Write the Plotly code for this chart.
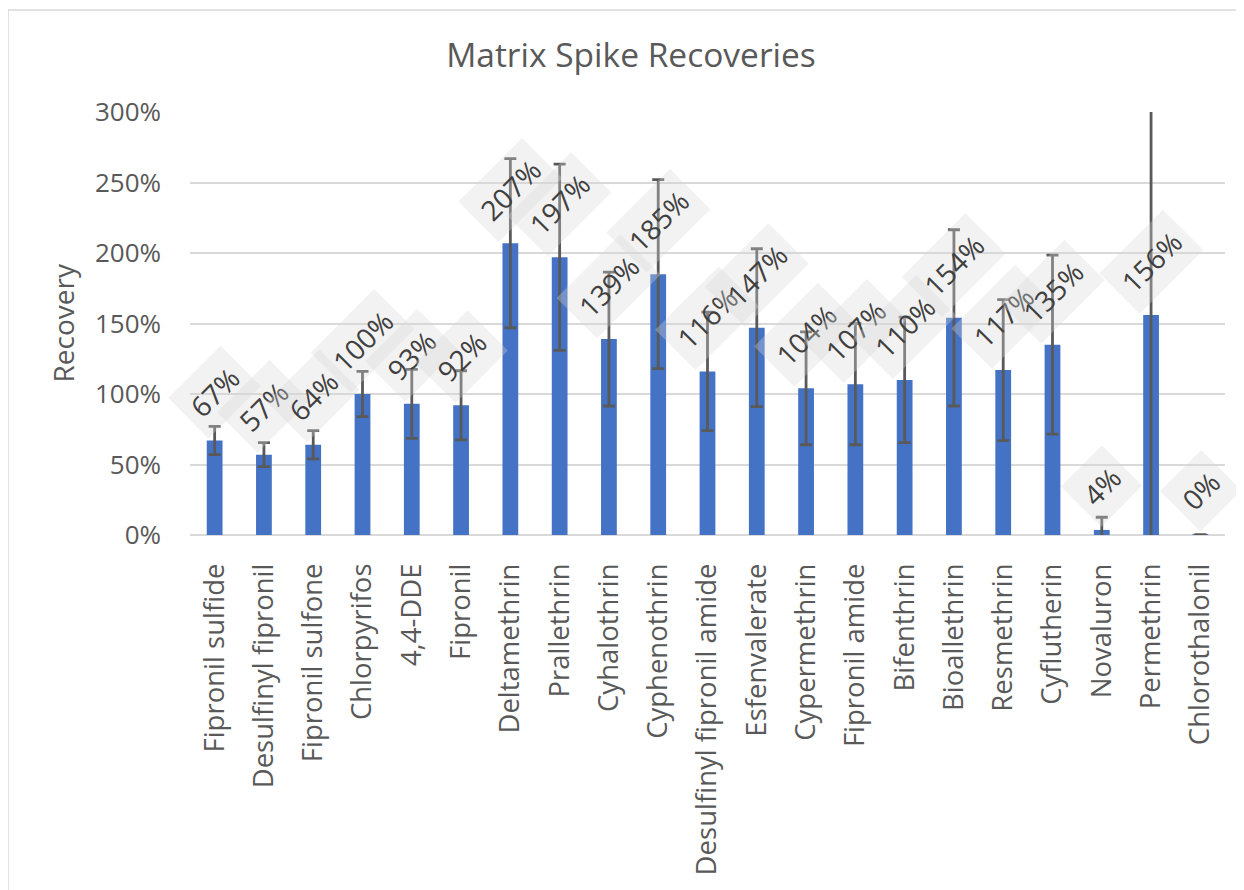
import plotly.graph_objects as go

categories = ["Fipronil sulfide", "Desulfinyl fipronil", "Fipronil sulfone", "Chlorpyrifos",
              "4,4-DDE", "Fipronil", "Deltamethrin", "Prallethrin", "Cyhalothrin", "Cyphenothrin",
              "Desulfinyl fipronil amide", "Esfenvalerate", "Cypermethrin", "Fipronil amide",
              "Bifenthrin", "Bioallethrin", "Resmethrin", "Cyflutherin", "Novaluron",
              "Permethrin", "Chlorothalonil"]
recovery_pct = [67, 57, 64, 100, 93, 92, 207, 197, 139, 185, 116, 147, 104, 107, 110, 154,
                117, 135, 3.6, 156, 0.3]
error_pct = [10, 8.5, 10, 16, 24.5, 24.5, 60, 66, 47.5, 67, 42, 56, 40, 43, 44.5, 62.5,
             50, 63.5, 9, 200, 0]

values = [v / 100 for v in recovery_pct]
errors = [e / 100 for e in error_pct]
labels = [f"{round(v):.0f}%" for v in recovery_pct]

FONT = "'Open Sans', 'Noto Sans', sans-serif"
GREY = "#595959"

# the page body adds an 8px offset; size the figure to fit inside the window
OFF = 8
W, H = 1244 - OFF, 890 - OFF
PL, PT, PR, PB = 190 - OFF, 112 - OFF, 1225 - OFF, 535 - OFF
L, T, R, B = PL, PT, W - PR, H - PB
PW, PH = PR - PL, PB - PT

fig = go.Figure()
fig.add_trace(go.Bar(
    x=categories, y=values,
    marker=dict(color="#4472C4", line=dict(width=0)),
    error_y=dict(type="data", array=errors, visible=True, color=GREY,
                 thickness=2.8, width=6),
    hoverinfo="x+y",
))

annotations = []
for c, v, t in zip(categories, values, labels):
    annotations.append(dict(
        x=c, y=v, xref="x", yref="y", text=t, showarrow=False,
        textangle=-45, font=dict(family=FONT, size=28, color="#404040"),
        bgcolor="rgba(217,217,217,0.33)", borderpad=9,
        yshift=35 + 4.5 * len(t), xshift=0,
    ))

# y-axis title
annotations.append(dict(
    x=(62 - OFF - PL) / PW, y=0.5, xref="paper", yref="paper", text="Recovery",
    showarrow=False, textangle=-90, xanchor="center", yanchor="middle",
    font=dict(family=FONT, size=28, color=GREY),
))

fig.update_layout(
    width=W, height=H,
    paper_bgcolor="white", plot_bgcolor="white",
    margin=dict(l=L, r=R, t=T, b=B, autoexpand=False),
    title=dict(text="Matrix Spike Recoveries", x=(631 - OFF) / W, xanchor="center",
               y=1 - (55 - OFF) / H, yanchor="middle",
               font=dict(family=FONT, size=33.5, color=GREY)),
    bargap=0.68,
    showlegend=False,
    annotations=annotations,
    shapes=[dict(type="rect", xref="paper", yref="paper",
                 x0=(8 - OFF - PL) / PW, x1=(1242 - OFF - PL) / PW,
                 y0=-1.0, y1=(PB - (10 - OFF)) / PH,
                 line=dict(color="#d9d9d9", width=1.5), layer="below")],
    font=dict(family=FONT, color=GREY),
)
fig.update_yaxes(range=[0, 3], dtick=0.5, tickformat=".0%", automargin=False,
                 showgrid=True, gridcolor="#d9d9d9", gridwidth=1.5,
                 zeroline=True, zerolinecolor="#d9d9d9", zerolinewidth=1.5,
                 tickfont=dict(family=FONT, size=26, color=GREY),
                 ticks="", ticklabelstandoff=28)
fig.update_xaxes(tickangle=-90, showgrid=False, showline=False, automargin=False,
                 range=[-0.5, len(categories) - 0.5],
                 tickfont=dict(family=FONT, size=27.5, color=GREY), ticks="",
                 ticklabelstandoff=22)

fig.write_html("out.html")
